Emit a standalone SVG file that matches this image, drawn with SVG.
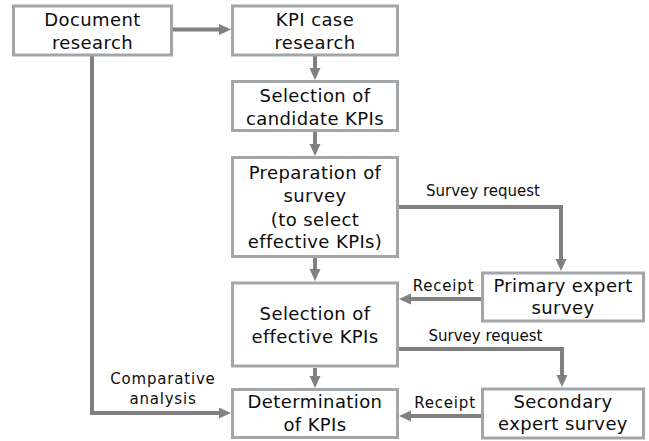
<svg xmlns="http://www.w3.org/2000/svg" width="649" height="441" viewBox="0 0 649 441">
<style>
.box{fill:#ffffff;stroke:#a3a6a8;stroke-width:3}
.t{font-family:"DejaVu Sans","Liberation Sans",sans-serif;font-size:18px;letter-spacing:0.4px;fill:#0d0d0d;text-anchor:middle}
.l{font-family:"DejaVu Sans","Liberation Sans",sans-serif;font-size:15px;fill:#0d0d0d;text-anchor:middle}
.w{letter-spacing:0.8px}
.c{fill:none;stroke:#808080;stroke-width:4;stroke-linejoin:miter}
</style>
<defs>
<marker id="ah" markerUnits="userSpaceOnUse" markerWidth="13" markerHeight="12" refX="0" refY="5.5" orient="auto">
<path d="M0,0 L12,5.5 L0,11 z" fill="#808080"/>
</marker>
</defs>
<rect width="649" height="441" fill="#ffffff"/>
<g id="connectors">
<path class="c" d="M172,29.5 H219" marker-end="url(#ah)"/>
<path class="c" d="M315,56 V68" marker-end="url(#ah)"/>
<path class="c" d="M315,132 V144" marker-end="url(#ah)"/>
<path class="c" d="M315,258 V269" marker-end="url(#ah)"/>
<path class="c" d="M315,368 V376" marker-end="url(#ah)"/>
<path class="c" d="M399,207 H561 V259" marker-end="url(#ah)"/>
<path class="c" d="M481,299 H411" marker-end="url(#ah)"/>
<path class="c" d="M399,349 H562 V375" marker-end="url(#ah)"/>
<path class="c" d="M481,416 H411" marker-end="url(#ah)"/>
<path class="c" d="M92,56 V413 H219" marker-end="url(#ah)"/>
<text class="l" x="483" y="196">Survey request</text>
<text class="l w" x="443.5" y="291">Receipt</text>
<text class="l" x="485.5" y="341">Survey request</text>
<text class="l w" x="445" y="408">Receipt</text>
<text class="l w" x="163" y="384">Comparative</text>
<text class="l w" x="163" y="404">analysis</text>
</g>
<g id="doc">
<rect class="box" x="13.5" y="6" width="158" height="49"/>
<text class="t" x="92.5" y="26">Document</text>
<text class="t" x="92.5" y="49">research</text>
</g>
<g id="kpicase">
<rect class="box" x="232.5" y="6" width="165" height="49"/>
<text class="t" x="315" y="26">KPI case</text>
<text class="t" x="315" y="49">research</text>
</g>
<g id="candidate">
<rect class="box" x="232.5" y="81.5" width="165" height="49"/>
<text class="t" x="315" y="102">Selection of</text>
<text class="t" x="315" y="125">candidate KPIs</text>
</g>
<g id="prep">
<rect class="box" x="232.5" y="157.5" width="165" height="99"/>
<text class="t" x="315" y="179">Preparation of</text>
<text class="t" x="315" y="202">survey</text>
<text class="t" x="315" y="225.5">(to select</text>
<text class="t" x="315" y="248">effective KPIs)</text>
</g>
<g id="effective">
<rect class="box" x="232.5" y="283" width="165" height="83"/>
<text class="t" x="315" y="320">Selection of</text>
<text class="t" x="315" y="343">effective KPIs</text>
</g>
<g id="determination">
<rect class="box" x="232.5" y="389.5" width="165" height="48"/>
<text class="t" x="315" y="408">Determination</text>
<text class="t" x="315" y="430.5">of KPIs</text>
</g>
<g id="primary">
<rect class="box" x="482.5" y="273" width="161" height="48"/>
<text class="t" x="563" y="292">Primary expert</text>
<text class="t" x="563" y="314">survey</text>
</g>
<g id="secondary">
<rect class="box" x="482.5" y="389" width="161" height="49"/>
<text class="t" x="563" y="408">Secondary</text>
<text class="t" x="563" y="430">expert survey</text>
</g>
</svg>
